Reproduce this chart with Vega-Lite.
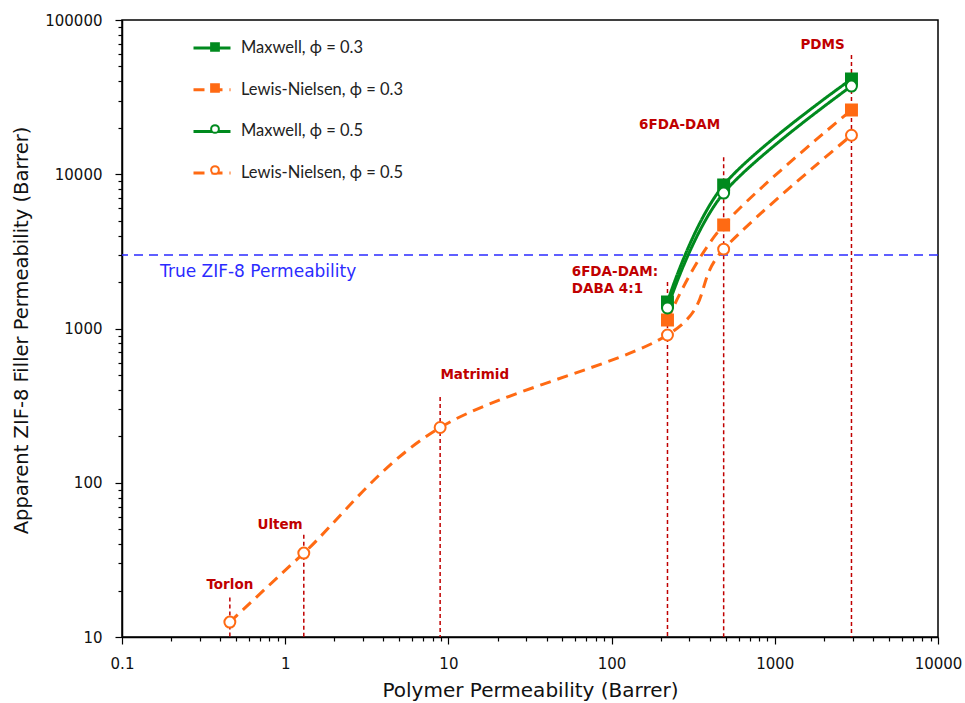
{
  "$schema": "https://vega.github.io/schema/vega-lite/v6.json",
  "width": 816,
  "height": 617,
  "autosize": "none",
  "padding": {"left": 122, "top": 20, "right": 27, "bottom": 66},
  "background": "white",
  "config": {
    "view": {"stroke": "black", "strokeWidth": 1.5},
    "font": "DejaVu Sans"
  },
  "datasets": {
    "curves": [
      {"series": "Maxwell, ϕ = 0.3", "x": 220, "y": 1486},
      {"series": "Maxwell, ϕ = 0.3", "x": 486, "y": 8510},
      {"series": "Maxwell, ϕ = 0.3", "x": 2950, "y": 41400},
      {"series": "Lewis-Nielsen, ϕ = 0.3", "x": 220, "y": 1135},
      {"series": "Lewis-Nielsen, ϕ = 0.3", "x": 486, "y": 4690},
      {"series": "Lewis-Nielsen, ϕ = 0.3", "x": 2950, "y": 26100},
      {"series": "Maxwell, ϕ = 0.5", "x": 220, "y": 1358},
      {"series": "Maxwell, ϕ = 0.5", "x": 486, "y": 7550},
      {"series": "Maxwell, ϕ = 0.5", "x": 2950, "y": 37300},
      {"series": "Lewis-Nielsen, ϕ = 0.5", "x": 0.458, "y": 12.5},
      {"series": "Lewis-Nielsen, ϕ = 0.5", "x": 1.3, "y": 35},
      {"series": "Lewis-Nielsen, ϕ = 0.5", "x": 8.9, "y": 228},
      {"series": "Lewis-Nielsen, ϕ = 0.5", "x": 220, "y": 908},
      {"series": "Lewis-Nielsen, ϕ = 0.5", "x": 486, "y": 3270},
      {"series": "Lewis-Nielsen, ϕ = 0.5", "x": 2950, "y": 17900}
    ],
    "polymers": [
      {"name": "Torlon", "x": 0.458, "top": 18},
      {"name": "Ultem", "x": 1.3, "top": 46},
      {"name": "Matrimid", "x": 8.9, "top": 360},
      {"name": "6FDA-DAM:DABA 4:1", "x": 220, "top": 2000},
      {"name": "6FDA-DAM", "x": 486, "top": 12900},
      {"name": "PDMS", "x": 2950, "top": 59300}
    ],
    "labels": [
      {"text": "Torlon", "x": 0.458, "y": 21.7},
      {"text": "Ultem", "x": 0.93, "y": 53},
      {"text": "Matrimid", "x": 14.5, "y": 500},
      {"text": "6FDA-DAM", "x": 261, "y": 20800},
      {"text": "PDMS", "x": 1963, "y": 68900}
    ],
    "labelsLeft": [
      {"text": "6FDA-DAM:", "x": 57, "y": 2323},
      {"text": "DABA  4:1", "x": 57, "y": 1803}
    ]
  },
  "encoding": {
    "x": {
      "field": "x",
      "type": "quantitative",
      "scale": {"type": "log", "domain": [0.1, 10000], "nice": false},
      "axis": {
        "title": "Polymer  Permeability  (Barrer)",
        "titleFont": "DejaVu Sans",
        "titleFontSize": 20,
        "titleFontWeight": "normal",
        "titleColor": "#111",
        "titleX": 408,
        "titleY": 53,
        "titleBaseline": "middle",
        "values": [0.1, 0.2, 0.3, 0.4, 0.5, 0.6, 0.7, 0.8, 0.9, 1, 2, 3, 4, 5, 6, 7, 8, 9, 10, 20, 30, 40, 50, 60, 70, 80, 90, 100, 200, 300, 400, 500, 600, 700, 800, 900, 1000, 2000, 3000, 4000, 5000, 6000, 7000, 8000, 9000, 10000],
        "format": "~g",
        "labelExpr": "abs(log(datum.value)/LN10 - round(log(datum.value)/LN10)) < 0.000001 ? datum.label : ''",
        "labelOverlap": false,
        "labelFlush": false,
        "labelFont": "DejaVu Sans",
        "labelFontSize": 15,
        "labelColor": "#111",
        "labelPadding": 12,
        "tickSize": {"condition": {"test": "abs(log(datum.value)/LN10 - round(log(datum.value)/LN10)) < 0.000001", "value": 7}, "value": 4},
        "tickColor": "black",
        "tickWidth": 1.2,
        "domainColor": "black",
        "domainWidth": 1.5,
        "grid": false
      }
    },
    "y": {
      "field": "y",
      "type": "quantitative",
      "scale": {"type": "log", "domain": [10, 100000], "nice": false},
      "axis": {
        "title": "Apparent  ZIF-8  Filler  Permeability  (Barrer)",
        "titleFont": "DejaVu Sans",
        "titleFontSize": 19.5,
        "titleFontWeight": "normal",
        "titleColor": "#111",
        "titleX": -101,
        "titleY": 310,
        "titleBaseline": "middle",
        "values": [10, 20, 30, 40, 50, 60, 70, 80, 90, 100, 200, 300, 400, 500, 600, 700, 800, 900, 1000, 2000, 3000, 4000, 5000, 6000, 7000, 8000, 9000, 10000, 20000, 30000, 40000, 50000, 60000, 70000, 80000, 90000, 100000],
        "format": "~g",
        "labelExpr": "abs(log(datum.value)/LN10 - round(log(datum.value)/LN10)) < 0.000001 ? datum.label : ''",
        "labelOverlap": false,
        "labelFlush": false,
        "labelFont": "DejaVu Sans",
        "labelFontSize": 15,
        "labelColor": "#111",
        "labelPadding": 13,
        "tickSize": {"condition": {"test": "abs(log(datum.value)/LN10 - round(log(datum.value)/LN10)) < 0.000001", "value": 7}, "value": 4},
        "tickColor": "black",
        "tickWidth": 1.2,
        "domainColor": "black",
        "domainWidth": 1.5,
        "grid": false
      }
    }
  },
  "layer": [
    {
      "data": {"name": "polymers"},
      "mark": {"type": "rule", "color": "#c00000", "strokeWidth": 1.5, "strokeDash": [4, 3]},
      "encoding": {
        "y": {"field": "top", "type": "quantitative"},
        "y2": {"datum": 10}
      }
    },
    {
      "data": {"values": [{"v": 3000}]},
      "mark": {"type": "rule", "color": "#2b2bff", "strokeWidth": 1.5, "strokeDash": [9, 6]},
      "encoding": {
        "x": null,
        "y": {"field": "v", "type": "quantitative"}
      }
    },
    {
      "data": {"values": [{"text": "True ZIF-8 Permeability", "x": 0.171, "y": 2323}]},
      "mark": {"type": "text", "align": "left", "baseline": "middle", "font": "DejaVu Sans", "fontSize": 17, "color": "#2b2bff"},
      "encoding": {"text": {"field": "text"}}
    },
    {
      "data": {"name": "curves"},
      "mark": {"type": "line", "interpolate": "cardinal", "strokeWidth": 3},
      "encoding": {
        "color": {
          "field": "series",
          "type": "nominal",
          "scale": {
            "domain": ["Maxwell, ϕ = 0.3", "Lewis-Nielsen, ϕ = 0.3", "Maxwell, ϕ = 0.5", "Lewis-Nielsen, ϕ = 0.5"],
            "range": ["#008a1e", "#ff6a13", "#008a1e", "#ff6a13"]
          },
          "legend": {
            "title": null,
            "orient": "none",
            "legendX": 70,
            "legendY": 8,
            "symbolType": "stroke",
            "symbolSize": 1369,
            "symbolStrokeWidth": 3,
            "labelFont": "Lato",
            "labelFontSize": 16.5,
            "labelColor": "#222",
            "labelOffset": 9,
            "labelLimit": 0,
            "rowPadding": 12.7
          }
        },
        "strokeDash": {
          "field": "series",
          "type": "nominal",
          "scale": {
            "domain": ["Maxwell, ϕ = 0.3", "Lewis-Nielsen, ϕ = 0.3", "Maxwell, ϕ = 0.5", "Lewis-Nielsen, ϕ = 0.5"],
            "range": [[1, 0], [11, 7], [1, 0], [11, 7]]
          }
        }
      }
    },
    {
      "data": {"name": "curves"},
      "mark": {"type": "point", "filled": false, "strokeWidth": 2, "size": 120, "opacity": 1},
      "encoding": {
        "color": {
          "field": "series",
          "type": "nominal",
          "scale": {
            "domain": ["Maxwell, ϕ = 0.3", "Lewis-Nielsen, ϕ = 0.3", "Maxwell, ϕ = 0.5", "Lewis-Nielsen, ϕ = 0.5"],
            "range": ["#008a1e", "#ff6a13", "#008a1e", "#ff6a13"]
          },
          "legend": {
            "title": null,
            "orient": "none",
            "legendX": 85,
            "legendY": 19,
            "symbolSize": 60,
            "symbolStrokeWidth": 2,
            "labelFont": "Lato",
            "labelFontSize": 16,
            "labelExpr": "''",
            "labelOffset": 12,
            "rowPadding": 25
          }
        },
        "shape": {
          "field": "series",
          "type": "nominal",
          "scale": {
            "domain": ["Maxwell, ϕ = 0.3", "Lewis-Nielsen, ϕ = 0.3", "Maxwell, ϕ = 0.5", "Lewis-Nielsen, ϕ = 0.5"],
            "range": ["square", "square", "circle", "circle"]
          }
        },
        "fill": {
          "field": "series",
          "type": "nominal",
          "scale": {
            "domain": ["Maxwell, ϕ = 0.3", "Lewis-Nielsen, ϕ = 0.3", "Maxwell, ϕ = 0.5", "Lewis-Nielsen, ϕ = 0.5"],
            "range": ["#008a1e", "#ff6a13", "white", "white"]
          }
        }
      }
    },
    {
      "data": {"name": "labels"},
      "mark": {"type": "text", "align": "center", "baseline": "middle", "font": "DejaVu Sans", "fontSize": 13.5, "fontWeight": "bold", "color": "#c00000"},
      "encoding": {"text": {"field": "text"}}
    },
    {
      "data": {"name": "labelsLeft"},
      "mark": {"type": "text", "align": "left", "baseline": "middle", "font": "DejaVu Sans", "fontSize": 13.5, "fontWeight": "bold", "color": "#c00000"},
      "encoding": {"text": {"field": "text"}}
    }
  ],
  "resolve": {
    "scale": {"color": "independent", "fill": "independent", "shape": "independent", "strokeDash": "independent"},
    "legend": {"color": "independent", "fill": "independent", "shape": "independent", "strokeDash": "independent"}
  }
}
